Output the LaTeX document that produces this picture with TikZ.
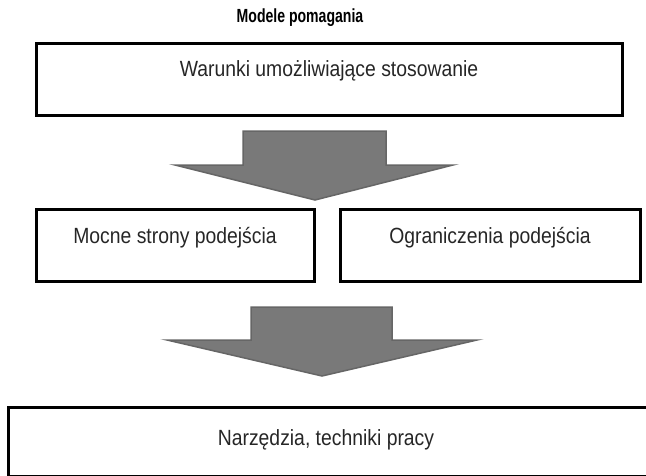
\documentclass[tikz,border=0pt]{standalone}
\usepackage{fontspec}
\setmainfont{Liberation Sans}[FakeStretch=0.88]
\newfontfamily\titlefont{Liberation Sans}[FakeStretch=0.74]
\begin{document}
\begin{tikzpicture}[x=1pt,y=-1pt]
    \tikzstyle{frame}=[draw,line width=3pt,outer sep=0pt,inner sep=0pt,anchor=north west,text=black!85,font=\fontsize{22}{24}\selectfont,text height=33pt]
    \tikzstyle{bigarrow}=[draw=gray!80!black,fill=gray!95!black,line width=1.5pt,line join=miter]

    \useasboundingbox (0,0) rectangle (646,475);
    \clip (0,0) rectangle (646,475);

    \node[font=\titlefont\bfseries\fontsize{19}{21}\selectfont] (title) at (300,18) {Modele pomagania};

    \node[frame,minimum width=586pt,text depth=39pt] (warunki) at (36,43) {Warunki umożliwiające stosowanie};
    \node[frame,minimum width=278pt,text depth=38pt,text height=34pt] (mocne) at (36,209) {Mocne strony podejścia};
    \node[frame,minimum width=300pt,text depth=38pt,text height=34pt] (ogran) at (340,209) {Ograniczenia podejścia};
    \node[frame,minimum width=652pt,text depth=31pt,text height=38pt] (narz) at (8,407) {\hspace*{-16pt}Narzędzia, techniki pracy};

    % strzalki
    \path[bigarrow] (243,131) -- (386,131) -- (386,165) -- (453,165) -- (315,200) -- (175,165) -- (243,165) -- cycle;
    \path[bigarrow] (251,307) -- (392,307) -- (392,340) -- (477,340) -- (322,376) -- (167,340) -- (251,340) -- cycle;

\end{tikzpicture}
\end{document}
